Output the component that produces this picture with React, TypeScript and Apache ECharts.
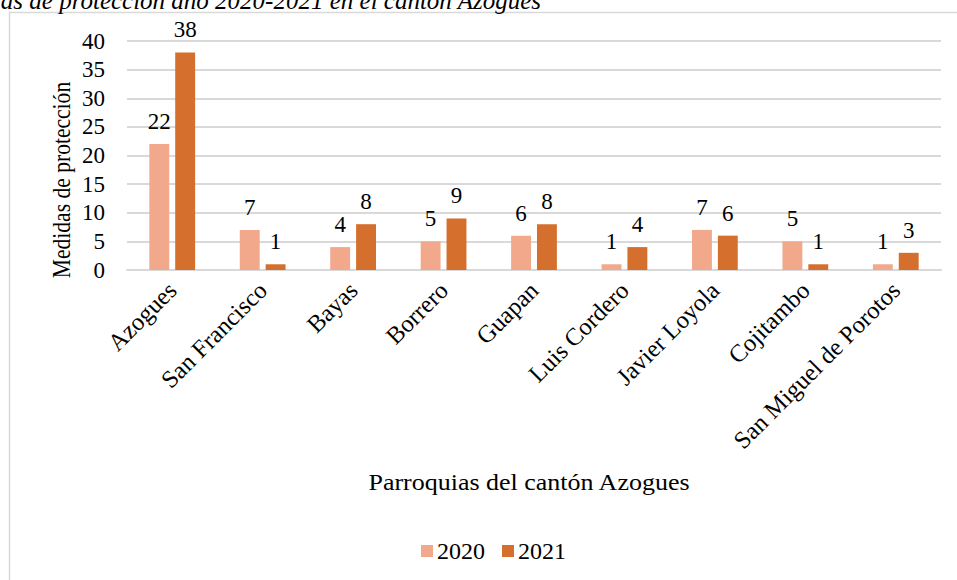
import React, { useEffect, useRef } from "react";
import * as echarts from "echarts";

const categories = [
  "Azogues",
  "San Francisco",
  "Bayas",
  "Borrero",
  "Guapan",
  "Luis Cordero",
  "Javier Loyola",
  "Cojitambo",
  "San Miguel de Porotos",
];
const values2020 = [22, 7, 4, 5, 6, 1, 7, 5, 1];
const values2021 = [38, 1, 8, 9, 8, 4, 6, 1, 3];
const seriesNames = ["2020", "2021"];
const titleText = "Medidas de protección año 2020-2021 en el cantón Azogues";
const yAxisTitle = "Medidas de protección";
const xAxisTitle = "Parroquias del cantón Azogues";

const FONT = "'Liberation Serif', 'Times New Roman', serif";
const C2020 = "#F1A88B";
const C2021 = "#D46F2D";

export default function App() {
  const ref = useRef<HTMLDivElement>(null);
  useEffect(() => {
    if (!ref.current) return;
    const chart = echarts.init(ref.current, undefined, { renderer: "svg" });
    const label = {
      show: true,
      position: "top",
      distance: 11,
      color: "#000",
      fontFamily: FONT,
      fontSize: 23,
    };
    chart.setOption({
      animation: false,
      backgroundColor: "#fff",
      textStyle: { fontFamily: FONT },
      graphic: [
        {
          type: "rect",
          z: -1,
          shape: { x: 9.5, y: 12.5, width: 1200, height: 1200 },
          style: { fill: "none", stroke: "#d9d9d9", lineWidth: 1.5 },
          silent: true,
        },
        {
          type: "text",
          x: 541,
          y: 13,
          style: {
            text: titleText,
            fontFamily: FONT,
            fontStyle: "italic",
            fontSize: 25,
            fill: "#000",
            align: "right",
            verticalAlign: "bottom",
          },
        },
        {
          type: "text",
          x: 61,
          y: 180,
          rotation: Math.PI / 2,
          scaleX: 0.98,
          scaleY: 1.15,
          style: {
            text: yAxisTitle,
            fontFamily: FONT,
            fontSize: 22,
            fill: "#000",
            align: "center",
            verticalAlign: "middle",
          },
        },
        {
          type: "text",
          x: 529,
          y: 482,
          scaleX: 1.13,
          style: {
            text: xAxisTitle,
            fontFamily: FONT,
            fontSize: 23,
            fill: "#000",
            align: "center",
            verticalAlign: "middle",
          },
        },
      ],
      legend: {
        data: seriesNames,
        top: 539,
        left: 421,
        padding: 0,
        itemWidth: 12,
        itemHeight: 12,
        itemGap: 17,
        icon: "rect",
        textStyle: { fontFamily: FONT, fontSize: 24, color: "#000", padding: [0, 0, 0, -1] },
      },
      grid: { left: 127, right: 16, top: 41, bottom: 310, containLabel: false },
      xAxis: {
        type: "category",
        data: categories,
        axisLine: { lineStyle: { color: "#d9d9d9", width: 2 } },
        axisTick: { show: false },
        axisLabel: {
          rotate: 45,
          interval: 0,
          fontFamily: FONT,
          fontSize: 24.5,
          color: "#000",
          margin: 16,
        },
      },
      yAxis: {
        type: "value",
        min: 0,
        max: 40,
        interval: 5,
        axisLine: { show: false },
        axisTick: { show: false },
        splitLine: { lineStyle: { color: "#d9d9d9", width: 2 } },
        axisLabel: {
          fontFamily: FONT,
          fontSize: 23,
          color: "#000",
          margin: 22,
        },
      },
      series: [
        {
          name: seriesNames[0],
          type: "bar",
          data: values2020,
          itemStyle: { color: C2020 },
          barWidth: "22%",
          barGap: "30%",
          label,
        },
        {
          name: seriesNames[1],
          type: "bar",
          data: values2021,
          itemStyle: { color: C2021 },
          barWidth: "22%",
          label,
        },
      ],
    });
    return () => chart.dispose();
  }, []);
  return <div ref={ref} style={{ width: 957, height: 580, position: "fixed", left: 0, top: 0 }} />;
}
